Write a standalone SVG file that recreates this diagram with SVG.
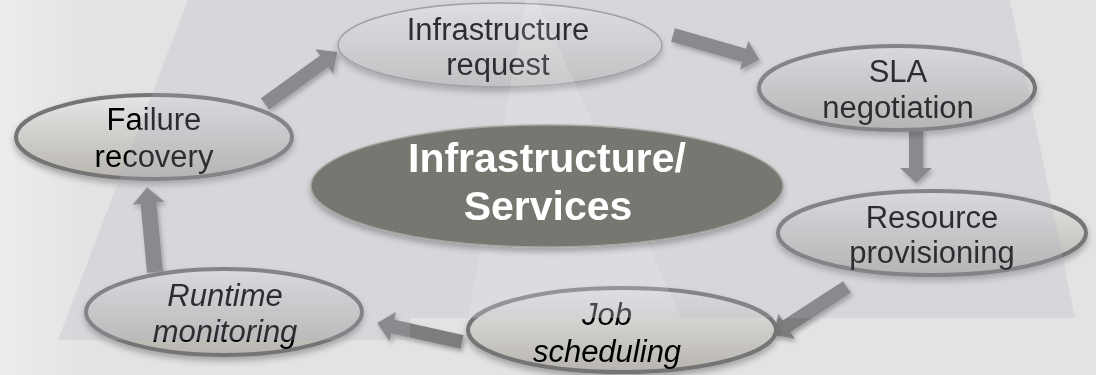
<svg xmlns="http://www.w3.org/2000/svg" width="1096" height="375" viewBox="0 0 1096 375">
<style>
.lbl{font-family:"Liberation Sans",Arial,sans-serif;font-size:31px;fill:#000;text-anchor:middle}
.it{font-style:italic}
.ctr{font-family:"Liberation Sans",Arial,sans-serif;font-size:41px;font-weight:bold;fill:#fff;text-anchor:middle}
.node{fill:url(#nodeFill);stroke:#747474;stroke-width:4}
.nodeThin{fill:url(#nodeFill2);stroke:#9a9a9a;stroke-width:1.5}
.arrow{fill:#7d7d7d}
</style>
<defs>
<linearGradient id="bgGrad" x1="0" y1="0" x2="1" y2="0">
<stop offset="0" stop-color="#ededed"/>
<stop offset="0.08" stop-color="#e3e3e3"/>
<stop offset="1" stop-color="#e3e3e3"/>
</linearGradient>
<linearGradient id="nodeFill" x1="0" y1="0" x2="0" y2="1">
<stop offset="0" stop-color="#e6e6e6"/>
<stop offset="1" stop-color="#b8b5af"/>
</linearGradient>
<linearGradient id="nodeFill2" x1="0" y1="0" x2="0" y2="1">
<stop offset="0" stop-color="#ececec"/>
<stop offset="1" stop-color="#c8c6c2"/>
</linearGradient>
<filter id="shadow" x="-20%" y="-20%" width="140%" height="150%">
<feDropShadow dx="0" dy="4" stdDeviation="3" flood-color="#000" flood-opacity="0.28"/>
</filter>
<filter id="ashadow" x="-20%" y="-30%" width="140%" height="160%">
<feDropShadow dx="2" dy="3" stdDeviation="2" flood-color="#000" flood-opacity="0.3"/>
</filter>
</defs>

<rect id="background" x="0" y="0" width="1096" height="375" fill="url(#bgGrad)"/>

<g id="connectors" filter="url(#ashadow)">
<polygon class="arrow" transform="translate(265,104) rotate(-35.8)" points="0,-7 73,-7 73,-15 89,0 73,15 73,7 0,7"/>
<polygon class="arrow" transform="translate(673,35) rotate(16)" points="0,-7 74,-7 74,-15 90,0 74,15 74,7 0,7"/>
<polygon class="arrow" transform="translate(916,128) rotate(90)" points="0,-7 40,-7 40,-16 55,0 40,16 40,7 0,7"/>
<polygon class="arrow" transform="translate(847,287) rotate(147)" points="0,-7 72,-7 72,-15 88,0 72,15 72,7 0,7"/>
<polygon class="arrow" transform="translate(462,342) rotate(192.6)" points="0,-7 71,-7 71,-15 87,0 71,15 71,7 0,7"/>
<polygon class="arrow" transform="translate(155,272) rotate(-95.4)" points="0,-8 69,-8 69,-16 85,0 69,16 69,8 0,8"/>
</g>

<g id="node-infrastructure-request" filter="url(#shadow)">
<ellipse class="nodeThin" cx="500" cy="45" rx="162" ry="42"/>
<text class="lbl" x="498" y="40">Infrastructure</text>
<text class="lbl" x="498" y="75">request</text>
</g>

<g id="node-sla-negotiation" filter="url(#shadow)">
<ellipse class="node" cx="897" cy="88" rx="138" ry="42"/>
<text class="lbl" x="898" y="82">SLA</text>
<text class="lbl" x="898" y="118">negotiation</text>
</g>

<g id="node-resource-provisioning" filter="url(#shadow)">
<ellipse class="node" cx="932" cy="233" rx="154" ry="42"/>
<text class="lbl" x="932" y="228">Resource</text>
<text class="lbl" x="932" y="263">provisioning</text>
</g>

<g id="node-job-scheduling" filter="url(#shadow)">
<ellipse class="node" cx="622" cy="330" rx="154" ry="42"/>
<text class="lbl it" x="607" y="325">Job</text>
<text class="lbl it" x="607" y="362">scheduling</text>
</g>

<g id="node-runtime-monitoring" filter="url(#shadow)">
<ellipse class="node" cx="224" cy="312" rx="138" ry="43"/>
<text class="lbl it" x="225" y="306">Runtime</text>
<text class="lbl it" x="225" y="342">monitoring</text>
</g>

<g id="node-failure-recovery" filter="url(#shadow)">
<ellipse class="node" cx="154" cy="137" rx="138" ry="42"/>
<text class="lbl" x="154" y="130">Failure</text>
<text class="lbl" x="154" y="167">recovery</text>
</g>

<polygon id="band-overlay" points="188,0 1010,0 1075,318 410,318 410,340 58,340" fill="rgb(172,180,194)" fill-opacity="0.25"/>
<polygon id="beam-overlay" points="526,0 537,0 681,318 468,318" fill="#ffffff" fill-opacity="0.13"/>

<g id="node-center" filter="url(#shadow)">
<ellipse cx="547" cy="186" rx="236" ry="61" fill="#78766f" stroke="#a6a49e" stroke-width="1.5"/>
<text class="ctr" x="547" y="172">Infrastructure/</text>
<text class="ctr" x="548" y="220">Services</text>
</g>
</svg>
